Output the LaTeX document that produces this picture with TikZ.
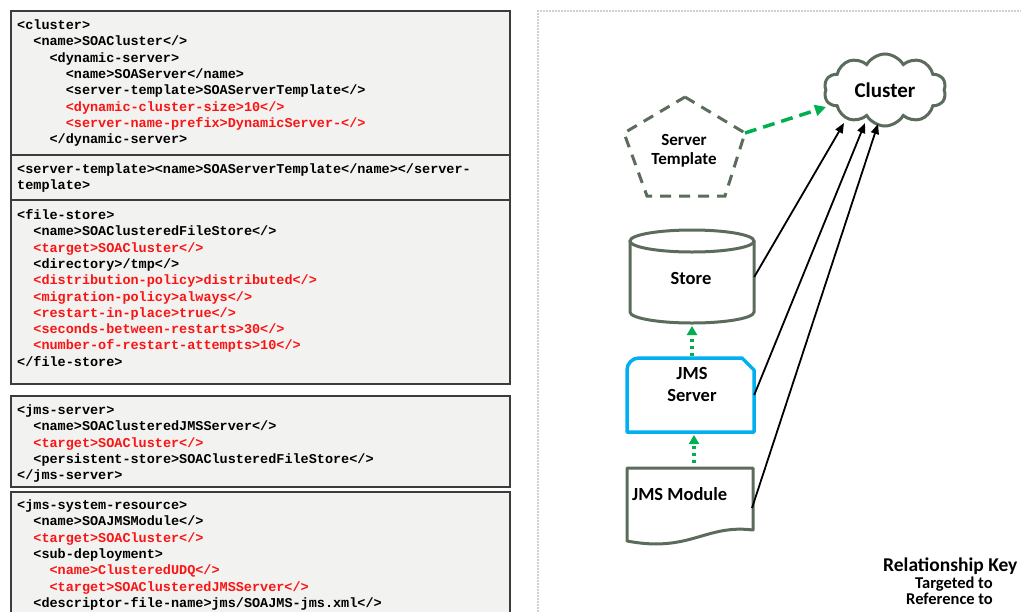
\documentclass[tikz,border=0pt]{standalone}
\usepackage{fontspec}
\setmainfont{Carlito}
\newfontfamily\codefont{Liberation Mono}
\usetikzlibrary{shapes.symbols,arrows.meta}
\definecolor{nodegray}{RGB}{92,108,92}
\definecolor{relgreen}{RGB}{0,176,80}
\definecolor{jmsblue}{RGB}{0,176,240}
\definecolor{boxborder}{RGB}{60,60,60}
\definecolor{boxfill}{RGB}{242,242,240}
\definecolor{panelborder}{RGB}{208,208,208}
\definecolor{codered}{RGB}{250,20,20}
\tikzset{
  codetxt/.style={anchor=base west,inner sep=0pt,font=\codefont\bfseries\fontsize{13.5}{16.3}\selectfont},
  codebox/.style={draw=boxborder,line width=1.4pt,fill=boxfill},
  shapeline/.style={draw=nodegray,line width=3pt},
  lbl/.style={inner sep=0pt,align=center,font=\bfseries\fontsize{17}{19}\selectfont},
  target/.style={-{Triangle[length=10pt,width=8pt]},line width=1.8pt,black},
  refdot/.style={-{Triangle[length=9pt,width=10pt]},line width=3.2pt,relgreen,dash pattern=on 3pt off 4pt},
  refdash/.style={-{Triangle[length=11pt,width=11pt]},line width=3.5pt,relgreen,dash pattern=on 12pt off 7pt},
}
\newcommand\cl[5]{\node[codetxt,text=#4] (#1) at ({17+8.1*#3},#2) {#5};}
\begin{document}
\begin{tikzpicture}[x=1pt,y=-1pt]
\useasboundingbox (0,0) rectangle (1021,611);
\clip (0,0) rectangle (1021,611);
\fill[white] (0,0) rectangle (1021,611);
% ---------- code boxes ----------
\draw[codebox] (11,11) rectangle (510,155);
\draw[codebox] (11,155) rectangle (510,200);
\draw[codebox] (11,200) rectangle (510,384);
\draw[codebox] (11,396) rectangle (510,487);
\draw[codebox] (11,492) rectangle (510,625);
% box 1
\cl{a1}{29.5}{0}{black}{<cluster>}
\cl{a2}{45.8}{2}{black}{<name>SOACluster</>}
\cl{a3}{62.1}{4}{black}{<dynamic-server>}
\cl{a4}{78.4}{6}{black}{<name>SOAServer</name>}
\cl{a5}{94.7}{6}{black}{<server-template>SOAServerTemplate</>}
\cl{a6}{111.0}{6}{codered}{<dynamic-cluster-size>10</>}
\cl{a7}{127.3}{6}{codered}{<server-name-prefix>DynamicServer-</>}
\cl{a8}{143.6}{4}{black}{</dynamic-server>}
% box 2
\cl{b1}{173.5}{0}{black}{<server-template><name>SOAServerTemplate</name></server-}
\cl{b2}{189.8}{0}{black}{template>}
% box 3
\cl{c1}{219.5}{0}{black}{<file-store>}
\cl{c2}{235.8}{2}{black}{<name>SOAClusteredFileStore</>}
\cl{c3}{252.1}{2}{codered}{<target>SOACluster</>}
\cl{c4}{268.4}{2}{black}{<directory>/tmp</>}
\cl{c5}{284.7}{2}{codered}{<distribution-policy>distributed</>}
\cl{c6}{301.0}{2}{codered}{<migration-policy>always</>}
\cl{c7}{317.3}{2}{codered}{<restart-in-place>true</>}
\cl{c8}{333.6}{2}{codered}{<seconds-between-restarts>30</>}
\cl{c9}{349.9}{2}{codered}{<number-of-restart-attempts>10</>}
\cl{c10}{366.2}{0}{black}{</file-store>}
% box 4
\cl{d1}{414.5}{0}{black}{<jms-server>}
\cl{d2}{430.8}{2}{black}{<name>SOAClusteredJMSServer</>}
\cl{d3}{447.1}{2}{codered}{<target>SOACluster</>}
\cl{d4}{463.4}{2}{black}{<persistent-store>SOAClusteredFileStore</>}
\cl{d5}{479.7}{0}{black}{</jms-server>}
% box 5
\cl{e1}{509.5}{0}{black}{<jms-system-resource>}
\cl{e2}{525.8}{2}{black}{<name>SOAJMSModule</>}
\cl{e3}{542.1}{2}{codered}{<target>SOACluster</>}
\cl{e4}{558.4}{2}{black}{<sub-deployment>}
\cl{e5}{574.7}{4}{codered}{<name>ClusteredUDQ</>}
\cl{e6}{591.0}{4}{codered}{<target>SOAClusteredJMSServer</>}
\cl{e7}{607.3}{2}{black}{<descriptor-file-name>jms/SOAJMS-jms.xml</>}
% ---------- right panel ----------
\draw[panelborder,line width=2pt,dash pattern=on 2pt off 1pt] (538,630) -- (538,11) -- (1030,11);
% cluster cloud
\node[cloud,shapeline,cloud puffs=10,cloud puff arc=120,aspect=1.67,
      minimum width=122pt,minimum height=72pt,inner sep=0pt,
      font=\bfseries\fontsize{21}{24}\selectfont] (cluster) at (885,90) {Cluster};
% server template pentagon
\coordinate (p1) at (685,97);
\coordinate (p2) at (745,133);
\coordinate (p3) at (725,196);
\coordinate (p4) at (647,196);
\coordinate (p5) at (624,133);
\draw[shapeline,dash pattern=on 11pt off 8pt] (p1) -- (p2) -- (p3) -- (p4) -- (p5) -- cycle;
\node[lbl] (tmpl) at (684,151) {Server\\Template};
% store cylinder
\node[inner sep=0pt,minimum width=124pt,minimum height=82pt] (store) at (692,277) {};
\draw[shapeline] (692,241) ellipse [x radius=62,y radius=11];
\draw[shapeline] (630,241) -- (630,312) arc[start angle=180,end angle=0,x radius=62,y radius=11] -- (754,241);
\node[lbl,font=\bfseries\fontsize{18.5}{21}\selectfont] (storelbl) at (691,278) {Store};
% JMS server
\node[inner sep=0pt,minimum width=127pt,minimum height=74pt] (jmsserver) at (690.5,395) {};
\draw[draw=jmsblue,line width=3.5pt,line join=round]
  (627,432) -- (627,370) arc[start angle=180,end angle=270,radius=12] -- (742,358) -- (754,370) -- (754,432) -- cycle;
\node[lbl,font=\bfseries\fontsize{18.5}{22}\selectfont] (jmslbl) at (692,384) {JMS\\Server};
% JMS module
\node[inner sep=0pt,minimum width=126pt,minimum height=74pt] (jmsmodule) at (690,505) {};
\draw[shapeline,line join=round]
  (627,468) -- (753,468) -- (753,530) .. controls (705,524) and (690,553) .. (627,541) -- cycle;
\node[lbl,font=\bfseries\fontsize{18.5}{21}\selectfont,anchor=west] (modlbl) at (632,494) {JMS Module};
% connector end points
\coordinate (t1) at (844,123);
\coordinate (t2) at (865,123);
\coordinate (t3) at (878,124);
\coordinate (s3) at (752,508);
\coordinate (ctip) at (826,107);
\coordinate (stbot) at (692,326);
\coordinate (srvtop) at (692,356);
\coordinate (srvbot) at (694,435);
\coordinate (modtop) at (694,463);
% connectors
\draw[target] (store.east) -- (t1);
\draw[target] (jmsserver.east) -- (t2);
\draw[target] (s3) -- (t3);
\draw[refdash] (p2) -- (ctip);
\draw[refdot] (srvtop) -- (stbot);
\draw[refdot] (modtop) -- (srvbot);
% relationship key
\node[anchor=base west,inner sep=0pt,font=\bfseries\fontsize{19.5}{22}\selectfont] (relkey) at (883,571) {Relationship Key};
\node[anchor=base west,inner sep=0pt,font=\bfseries\fontsize{16.5}{19}\selectfont] (keyt) at (915,588.5) {Targeted to};
\node[anchor=base west,inner sep=0pt,font=\bfseries\fontsize{16.5}{19}\selectfont] (keyr) at (906,604) {Reference to};
\end{tikzpicture}
\end{document}
